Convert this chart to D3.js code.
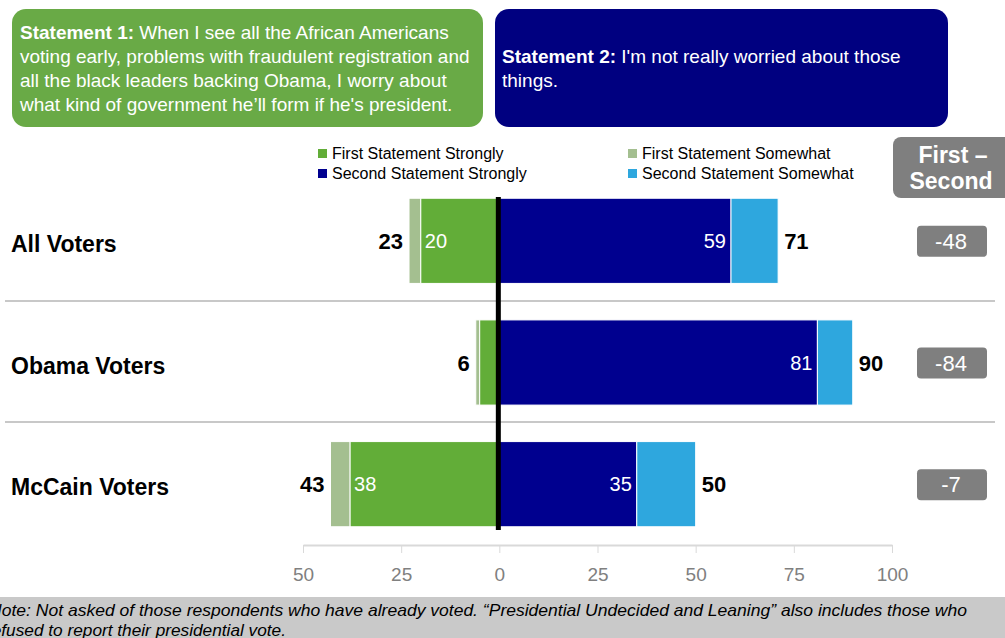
<!DOCTYPE html>
<html>
<head>
<meta charset="utf-8">
<script src="https://cdn.jsdelivr.net/npm/d3@7"></script>
<style>
  body { margin: 0; background: #fff; }
  svg { display: block; font-family: "Liberation Sans", Arial, sans-serif; }
</style>
</head>
<body>
<svg id="chart" width="1005" height="638"></svg>
<script>
const categories = ["All Voters", "Obama Voters", "McCain Voters"]
const firstStrong = [20, 5, 38]
const firstTotal = [23, 6, 43]
const secondStrong = [59, 81, 35]
const secondTotal = [71, 90, 50]
const tickVals = [-50, -25, 0, 25, 50, 75, 100]

const colors = {
  firstStrong: "#62ad38",
  firstSome: "#a4bf90",
  secondStrong: "#00008f",
  secondSome: "#2ea7de"
}

const svg = d3.select("#chart")

const x = d3.scaleLinear().domain([-50, 100]).range([303, 892])
const y = d3.scaleBand().domain(categories).range([180, 545]).paddingInner(0.3).paddingOuter(0.15)

// statement boxes
svg.append("rect")
    .attr("x", 12).attr("y", 9).attr("width", 471).attr("height", 118)
    .attr("rx", 14).attr("fill", "#69aa46")
svg.append("rect")
    .attr("x", 495).attr("y", 9).attr("width", 453).attr("height", 118)
    .attr("rx", 14).attr("fill", "#000080")

let s1 = [
  [["Statement 1:", true], [" When I see all the African Americans", false]],
  [["voting early, problems with fraudulent registration and", false]],
  [["all the black leaders backing Obama, I worry about", false]],
  [["what kind of government he\u2019ll form if he's president.", false]]
]
s1.forEach((line, i) => {
  let t = svg.append("text").attr("x", 20).attr("y", 39 + i * 24)
      .attr("fill", "#fff").attr("font-size", 19)
  line.forEach(p => t.append("tspan").attr("font-weight", p[1] ? "bold" : "normal").text(p[0]))
})
let s2 = [
  [["Statement 2:", true], [" I'm not really worried about those", false]],
  [["things.", false]]
]
s2.forEach((line, i) => {
  let t = svg.append("text").attr("x", 502).attr("y", 63 + i * 24)
      .attr("fill", "#fff").attr("font-size", 19)
  line.forEach(p => t.append("tspan").attr("font-weight", p[1] ? "bold" : "normal").text(p[0]))
})

// legend
const legend = [
  ["First Statement Strongly", colors.firstStrong, 318, 154],
  ["First Statement Somewhat", colors.firstSome, 628, 154],
  ["Second Statement Strongly", colors.secondStrong, 318, 174],
  ["Second Statement Somewhat", colors.secondSome, 628, 174]
]
legend.forEach(l => {
  svg.append("rect").attr("x", l[2]).attr("y", l[3] - 5).attr("width", 9).attr("height", 9).attr("fill", l[1])
  svg.append("text").attr("x", l[2] + 14).attr("y", l[3] + 5)
      .attr("font-size", 16).attr("fill", "#000").text(l[0])
})

// first - second header
svg.append("rect").attr("x", 893).attr("y", 137).attr("width", 130).attr("height", 61)
    .attr("rx", 8).attr("fill", "#7f7f7f")
svg.append("text").attr("x", 953).attr("y", 163).attr("text-anchor", "middle")
    .attr("font-size", 23).attr("font-weight", "bold").attr("fill", "#fff").text("First \u2013")
svg.append("text").attr("x", 951).attr("y", 189).attr("text-anchor", "middle")
    .attr("font-size", 23).attr("font-weight", "bold").attr("fill", "#fff").text("Second")

// separators
;[301, 422].forEach(yy => {
  svg.append("line").attr("x1", 5).attr("x2", 995).attr("y1", yy).attr("y2", yy)
      .attr("stroke", "#c8c8c8").attr("stroke-width", 2)
})

// bars
const rows = categories.map((c, i) => ({
  cat: c, fs: firstStrong[i], ft: firstTotal[i], ss: secondStrong[i], st: secondTotal[i],
  diff: firstTotal[i] - secondTotal[i]
}))

const g = svg.append("g")
rows.forEach(d => {
  let y0 = y(d.cat), h = y.bandwidth(), cy = y0 + h / 2
  g.append("rect").attr("x", x(-d.ft)).attr("y", y0).attr("width", x(-d.fs) - x(-d.ft)).attr("height", h)
      .attr("fill", colors.firstSome).attr("stroke", "#fff").attr("stroke-width", 1)
  g.append("rect").attr("x", x(-d.fs)).attr("y", y0).attr("width", x(0) - x(-d.fs)).attr("height", h)
      .attr("fill", colors.firstStrong).attr("stroke", "#fff").attr("stroke-width", 1)
  g.append("rect").attr("x", x(0)).attr("y", y0).attr("width", x(d.ss) - x(0)).attr("height", h)
      .attr("fill", colors.secondStrong).attr("stroke", "#fff").attr("stroke-width", 1)
  g.append("rect").attr("x", x(d.ss)).attr("y", y0).attr("width", x(d.st) - x(d.ss)).attr("height", h)
      .attr("fill", colors.secondSome).attr("stroke", "#fff").attr("stroke-width", 1)

  if (d.fs >= 10) {
    g.append("text").attr("x", x(-d.fs) + 4).attr("y", cy + 7).attr("font-size", 20)
        .attr("fill", "#fff").text(d.fs)
  }
  g.append("text").attr("x", x(d.ss) - 5).attr("y", cy + 7).attr("font-size", 20)
      .attr("text-anchor", "end").attr("fill", "#fff").text(d.ss)

  g.append("text").attr("x", x(-d.ft) - 6).attr("y", cy + 8).attr("font-size", 22)
      .attr("font-weight", "bold").attr("text-anchor", "end").text(d.ft)
  g.append("text").attr("x", x(d.st) + 6).attr("y", cy + 8).attr("font-size", 22)
      .attr("font-weight", "bold").text(d.st)

  g.append("text").attr("x", 11).attr("y", cy + 11).attr("font-size", 23)
      .attr("font-weight", "bold").text(d.cat)

  g.append("rect").attr("x", 917).attr("y", cy - 15).attr("width", 70).attr("height", 31)
      .attr("rx", 4).attr("fill", "#7f7f7f")
  g.append("text").attr("x", 951).attr("y", cy + 8).attr("text-anchor", "middle")
      .attr("font-size", 22).attr("fill", "#fff").text(d.diff)
})

// zero line
svg.append("line").attr("x1", x(0) - 1).attr("x2", x(0) - 1).attr("y1", 197).attr("y2", 530)
    .attr("stroke", "#000").attr("stroke-width", 5)

// axis
const axis = svg.append("g").attr("transform", "translate(0,545)")
    .call(d3.axisBottom(x).tickValues(tickVals).tickFormat(d => Math.abs(d)).tickSize(8).tickSizeOuter(0))
axis.select(".domain").attr("stroke", "#d9d9d9").attr("stroke-width", 2)
axis.selectAll(".tick line").attr("stroke", "#d9d9d9")
axis.selectAll(".tick text").attr("font-size", 19).attr("fill", "#808080").attr("dy", "1.3em")
    .attr("font-family", "'Liberation Sans', Arial, sans-serif")

// footnote
svg.append("rect").attr("x", 0).attr("y", 597).attr("width", 1005).attr("height", 41).attr("fill", "#c9c9c9")
const notes = [
  ["Note: Not asked of those respondents who have already voted. \u201cPresidential Undecided and Leaning\u201d also includes those who", -11, 978],
  ["refused to report their presidential vote.", -14, 300]
]
notes.forEach((n, i) => {
  svg.append("text").attr("x", n[1]).attr("y", 616 + i * 20)
      .attr("textLength", n[2]).attr("lengthAdjust", "spacingAndGlyphs")
      .attr("font-size", 17).attr("font-style", "italic").attr("fill", "#000").text(n[0])
})
</script>
</body>
</html>
